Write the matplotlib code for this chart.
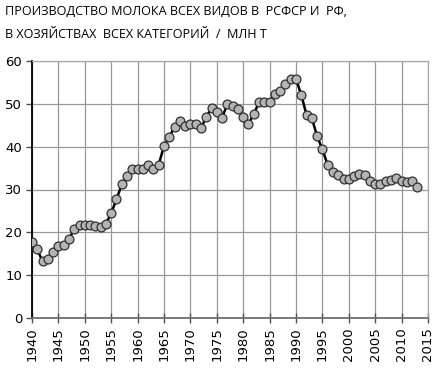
import matplotlib
matplotlib.use("Agg")
import matplotlib.pyplot as plt

years = list(range(1940, 2014))
milk = [17.8, 16.0, 13.2, 13.7, 15.3, 16.7, 17.1, 18.5, 20.7, 21.6,
        21.6, 21.7, 21.4, 21.2, 22.0, 24.5, 27.7, 31.2, 33.2, 34.7,
        34.7, 34.8, 35.7, 34.7, 35.8, 40.2, 42.2, 44.7, 46.0, 44.9,
        45.3, 45.3, 44.3, 47.0, 49.0, 48.2, 46.8, 49.9, 49.5, 48.8,
        46.9, 45.3, 47.6, 50.4, 50.5, 50.4, 52.3, 53.1, 54.6, 55.8,
        55.8, 52.1, 47.4, 46.7, 42.4, 39.4, 35.7, 34.2, 33.5, 32.5,
        32.5, 33.2, 33.7, 33.5, 32.0, 31.2, 31.4, 32.0, 32.3, 32.8,
        32.0, 31.7, 32.0, 30.5]
x_ticks = list(range(1940, 2016, 5))
y_ticks = [0, 10, 20, 30, 40, 50, 60]
title = "ПРОИЗВОДСТВО МОЛОКА ВСЕХ ВИДОВ В  РСФСР И  РФ,\nВ ХОЗЯЙСТВАХ  ВСЕХ КАТЕГОРИЙ  /  МЛН Т"

plt.rcParams['font.family'] = ['Open Sans', 'DejaVu Sans']
fig = plt.figure(figsize=(4.37, 3.77), dpi=100)
ax = fig.add_axes([32/437, 59/377, 396/437, 257/377])
ax.plot(years, milk, color='black', lw=1.8, marker='o', ms=6.4,
        mfc='#b4b4b4', mec='#303030', mew=0.9, zorder=3)
ax.set_xlim(1940, 2015)
ax.set_ylim(0, 60)
ax.set_xticks(x_ticks)
ax.set_yticks(y_ticks)
ax.set_xticklabels([str(v) for v in x_ticks], rotation=90, fontsize=9.5, family='DejaVu Sans')
ax.set_yticklabels([str(v) for v in y_ticks], fontsize=9.5, family='DejaVu Sans')
ax.grid(True, color='#999999', lw=0.9)
ax.set_axisbelow(True)
for s in ['top', 'right']:
    ax.spines[s].set_color('#a8a8a8')
    ax.spines[s].set_linewidth(0.9)
ax.spines['left'].set_color('black')
ax.spines['left'].set_linewidth(1.3)
ax.spines['bottom'].set_color('#707070')
ax.spines['bottom'].set_linewidth(1.3)
ax.tick_params(axis='x', direction='inout', length=7, width=1, color='#505050', pad=3)
ax.tick_params(axis='y', direction='out', length=4, width=1, color='#505050', pad=3)
fig.text(5/437, 1 - 5/377, title, ha='left', va='top', fontsize=9.1, linespacing=2.0)
fig.savefig("out.png", dpi=100)
